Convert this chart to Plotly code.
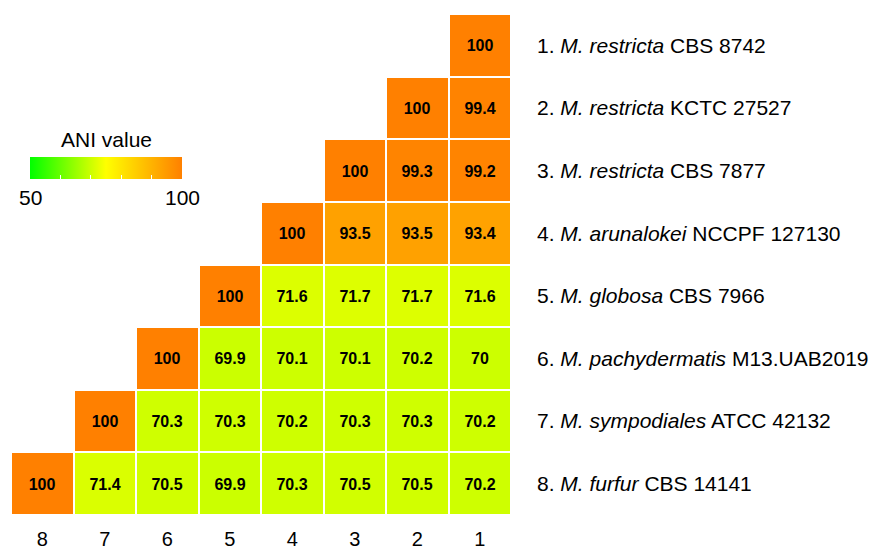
import plotly.graph_objects as go

col_labels = ["8", "7", "6", "5", "4", "3", "2", "1"]
row_labels = [
    "1. <i>M. restricta</i> CBS 8742",
    "2. <i>M. restricta</i> KCTC 27527",
    "3. <i>M. restricta</i> CBS 7877",
    "4. <i>M. arunalokei</i> NCCPF 127130",
    "5. <i>M. globosa</i> CBS 7966",
    "6. <i>M. pachydermatis</i> M13.UAB2019",
    "7. <i>M. sympodiales</i> ATCC 42132",
    "8. <i>M. furfur</i> CBS 14141",
]
# values per row, listed from column 1 upward (col1, col2, ..., col i)
row1 = [100]
row2 = [99.4, 100]
row3 = [99.2, 99.3, 100]
row4 = [93.4, 93.5, 93.5, 100]
row5 = [71.6, 71.7, 71.7, 71.6, 100]
row6 = [70, 70.2, 70.1, 70.1, 69.9, 100]
row7 = [70.2, 70.3, 70.3, 70.2, 70.3, 70.3, 100]
row8 = [70.2, 70.5, 70.5, 70.3, 69.9, 70.5, 71.4, 100]
rows = [row1, row2, row3, row4, row5, row6, row7, row8]
cbar_min, cbar_max = 50, 100
cbar_title = "ANI value"

z = []
for r in rows:
    full = r + [None] * (8 - len(r))  # col1..col8
    z.append(list(reversed(full)))    # order col8..col1

FONT = "Arial, Liberation Sans, sans-serif"

# plot area geometry (pixels)
L, R, T, B = 11, 511, 14, 515
W, H = R - L, B - T
# colorbar geometry (pixels)
cb_left, cb_right, cb_top, cb_bot = 30, 182, 159, 181
px = lambda x: (x - L) / W
py = lambda y: (B - y) / H

fig = go.Figure(
    go.Heatmap(
        z=z,
        x=col_labels,
        y=row_labels,
        zmin=cbar_min,
        zmax=cbar_max,
        colorscale=[[0, "#00FF00"], [0.5, "#FFFF00"], [1, "#FF8000"]],
        xgap=2,
        ygap=2,
        texttemplate="<b>%{z}</b>",
        textfont=dict(family=FONT, size=16, color="black"),
        hoverongaps=False,
        colorbar=dict(
            orientation="h",
            x=px((cb_left + cb_right) / 2),
            xanchor="center",
            y=py((cb_top + cb_bot) / 2),
            yanchor="middle",
            lenmode="pixels",
            len=cb_right - cb_left,
            thickness=cb_bot - cb_top,
            outlinewidth=0,
            xpad=0,
            ypad=0,
            tickvals=[50, 60, 70, 80, 90, 100],
            ticks="inside",
            ticklabelposition="outside top",
            ticklen=4,
            tickwidth=1,
            tickcolor="white",
            showticklabels=False,
        ),
    )
)

fig.add_annotation(x=px((cb_left + cb_right) / 2), y=py(cb_top - 6), xref="paper", yref="paper",
                   text=cbar_title, showarrow=False, xanchor="center", yanchor="bottom",
                   font=dict(family=FONT, size=21, color="black"))
for val, xp in [(cbar_min, cb_left), (cbar_max, cb_right)]:
    fig.add_annotation(x=px(xp), y=py(cb_bot + 3), xref="paper", yref="paper",
                       text=str(val), showarrow=False, xanchor="center", yanchor="top",
                       font=dict(family=FONT, size=21, color="black"))

fig.update_layout(
    width=878,
    height=550,
    margin=dict(l=L, r=878 - R, t=T, b=550 - B, autoexpand=False),
    plot_bgcolor="white",
    paper_bgcolor="white",
    font=dict(family=FONT, color="black"),
    xaxis=dict(
        showgrid=False, zeroline=False, showline=False, ticks="",
        tickfont=dict(family=FONT, size=20), ticklabelstandoff=10,
    ),
    yaxis=dict(
        side="right", autorange="reversed", showgrid=False, zeroline=False,
        showline=False, ticks="", tickfont=dict(family=FONT, size=21),
        ticklabelstandoff=25,
    ),
)

fig.write_html(
    "out.html",
    config={"displayModeBar": False},
    post_script="document.body.style.margin='0';document.body.style.overflow='hidden';",
)
